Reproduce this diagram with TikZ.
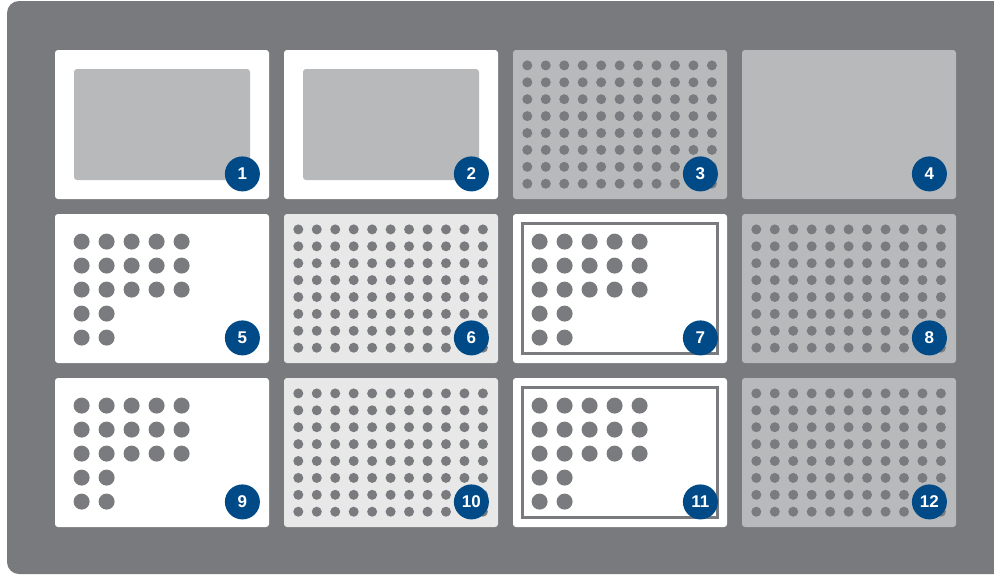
\documentclass[tikz,border=0pt]{standalone}
\usepackage{fontspec}
\usepackage{tikz}
\usetikzlibrary{positioning, calc}
\newfontfamily\badgefont{Liberation Sans}
\definecolor{bggray}{RGB}{121,122,126}
\definecolor{tilegray}{RGB}{184,185,187}
\definecolor{tilelight}{RGB}{232,232,233}
\definecolor{dotgray}{RGB}{122,123,127}
\definecolor{badgeblue}{RGB}{0,74,135}
\tikzset{
  tile/.style={rectangle, inner sep=0pt, minimum width=107pt,
    minimum height=74.5pt, rounded corners=1.5pt},
  screen/.style={rectangle, fill=tilegray, inner sep=0pt, minimum width=88pt,
    minimum height=55.5pt, rounded corners=1.5pt},
  frame/.style={rectangle, draw=dotgray, line width=1.5pt, inner sep=0pt,
    minimum width=97.5pt, minimum height=65pt},
  badge/.style={circle, fill=badgeblue, text=white, inner sep=0pt,
    minimum size=17.5pt, font=\badgefont\bfseries\fontsize{8.5}{10}\selectfont},
  smalldot/.style={fill=dotgray},
  bigdot/.style={fill=dotgray}
}
\begin{document}
\begin{tikzpicture}[x=0.5pt, y=-0.5pt]

  % Canvas
  \useasboundingbox (0,0) rectangle (994,575);
  \fill[white] (0,0) rectangle (994,575);
  \fill[bggray, rounded corners=6pt] (7,1) rectangle (1010,574);

  % Tiles
  \foreach \n/\cx/\cy/\fc in {1/162/124.5/white, 2/391/124.5/white,
      3/620/124.5/tilegray, 4/849/124.5/tilegray,
      5/162/288.5/white, 6/391/288.5/tilelight,
      7/620/288.5/white, 8/849/288.5/tilegray,
      9/162/452.5/white, 10/391/452.5/tilelight,
      11/620/452.5/white, 12/849/452.5/tilegray}
    \node[tile, fill=\fc] (t\n) at (\cx,\cy) {};

  % Screens and frames
  \foreach \n in {1,2}
    \node[screen] (s\n) at (t\n) {};
  \foreach \n in {7,11}
    \node[frame] (f\n) at (t\n) {};

  % Small dot grids
  \foreach \n in {3,6,8,10,12}
    \foreach \i in {0,...,10}
      \foreach \j in {0,...,7}
        \fill[smalldot] ($(t\n.north west)+(14.7+18.46*\i,15.8+16.9*\j)$) circle[radius=2.5pt];

  % Big dot groups
  \foreach \n in {5,7,9,11} {
    \foreach \i in {0,...,4}
      \foreach \j in {0,1,2}
        \fill[bigdot] ($(t\n.north west)+(27+25*\i,28+24*\j)$) circle[radius=4pt];
    \foreach \i in {0,1}
      \foreach \j in {3,4}
        \fill[bigdot] ($(t\n.north west)+(27+25*\i,28+24*\j)$) circle[radius=4pt];
  }

  % Numbers
  \foreach \n in {1,...,12}
    \node[badge] (b\n) at ($(t\n.south east)+(-27,-25.5)$) {\n};
\end{tikzpicture}
\end{document}
